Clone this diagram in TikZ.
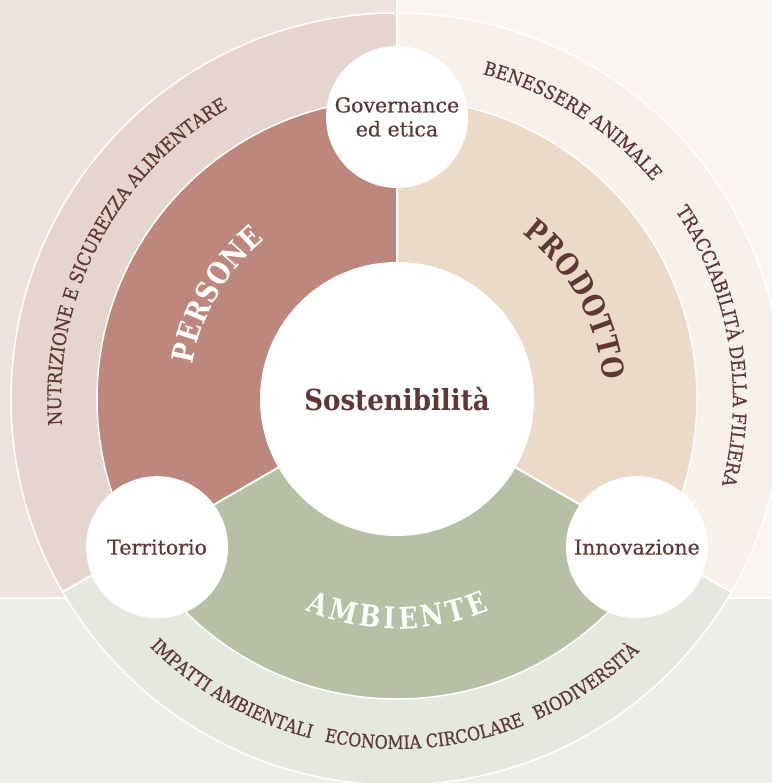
\documentclass[tikz,border=0pt]{standalone}
\usepackage{fontspec}
\setmainfont{DejaVu Serif}[FakeBold=0.5]
\newfontfamily\hubfamily{DejaVu Serif}[FakeStretch=0.9]
\newfontfamily\bandfamily{DejaVu Serif}[FakeStretch=0.86,FakeBold=0.5]
\newfontfamily\bandwidefamily{DejaVu Serif}[FakeStretch=0.9,FakeBold=0.5]
\newfontfamily\sectfamily{DejaVu Serif}[FakeStretch=0.84]
\usetikzlibrary{decorations.text}
\definecolor{txtbrown}{HTML}{5F3737}
\definecolor{persone}{HTML}{BE877D}
\definecolor{prodotto}{HTML}{ECDAC8}
\definecolor{ambiente}{HTML}{B5C0A5}
\definecolor{bgpersone}{HTML}{EEE2DF}
\definecolor{bgprodotto}{HTML}{FAF5F2}
\definecolor{bgambiente}{HTML}{EDEEE8}
\definecolor{bandpersone}{HTML}{E6D5CF}
\definecolor{bandprodotto}{HTML}{F7F0EB}
\definecolor{bandambiente}{HTML}{E5E8DF}
\tikzstyle{hub}=[circle,fill=white,minimum size=274pt,inner sep=0pt,text=txtbrown,font=\hubfamily\bfseries\fontsize{29}{34}\selectfont]
\tikzstyle{topic}=[circle,fill=white,minimum size=142pt,inner sep=0pt,text=txtbrown,align=center,font=\fontsize{20.5}{24}\selectfont]
\tikzstyle{divider}=[white,line width=2pt]
\tikzstyle{rim}=[white,line width=1.5pt]

\begin{document}
\begin{tikzpicture}[x=1pt,y=1pt]
\def \rhub {137};
\def \rin {300};
\def \rout {386};
\def \rdot {282};
\def \rbandcw {336};
\def \rbandccw {350};
\def \rsectcw {207};
\def \rsectccw {230};
\def \bandfont {\bandfamily\fontsize{18.5}{20}\selectfont};
\def \bandwidefont {\bandwidefamily\fontsize{18.8}{20}\selectfont};
\def \sectfont {\sectfamily\bfseries\fontsize{30}{32}\selectfont};

\clip (-397,-384) rectangle (375,399);

% background
\fill[bgpersone] (-397,-199) rectangle (0,399);
\fill[bgprodotto] (0,-199) rectangle (375,399);
\fill[bgambiente] (-397,-384) rectangle (375,-199);
\draw[divider] (0,0) -- (0,399);
\draw[divider] (-397,-199) -- (375,-199);

% outer band and inner sectors
\foreach \a/\col in {90/persone,-30/prodotto,210/ambiente} {
	\fill[band\col] (0,0) -- (\a:\rout) arc[start angle=\a,end angle=\a+120,radius=\rout] -- cycle;
	\fill[\col] (0,0) -- (\a:\rin) arc[start angle=\a,end angle=\a+120,radius=\rin] -- cycle;
};

\draw[rim] (0,0) circle[radius=\rout];
\draw[rim] (0,0) circle[radius=\rin];
\foreach \a in {90,210,330} {
	\draw[divider] (0,0) -- (\a:\rout);
};

\node[hub] (sost) at (0,0) {Sostenibilità};
\node[topic] (gov) at (90:\rdot) {Governance\\ed etica};
\node[topic] (terr) at (211.7:\rdot) {Territorio};
\node[topic] (innov) at (328.3:\rdot) {Innovazione};

% sector titles
\path[decorate,decoration={text along path,text align=center,
	text={|\color{white}\sectfont|P{\kern1pt}E{\kern1pt}R{\kern1pt}S{\kern1pt}O{\kern1pt}N{\kern1pt}E}}]
	(195:\rsectcw) arc[start angle=195,end angle=105,radius=\rsectcw];
\path[decorate,decoration={text along path,text align=center,
	text={|\color{txtbrown}\sectfont|P{\kern1pt}R{\kern1pt}O{\kern1pt}D{\kern1pt}O{\kern1pt}T{\kern1pt}T{\kern1pt}O}}]
	(74:\rsectcw) arc[start angle=74,end angle=-16,radius=\rsectcw];
\path[decorate,decoration={text along path,text align=center,
	text={|\color{white}\sectfont|A{\kern4pt}M{\kern4pt}B{\kern4pt}I{\kern4pt}E{\kern4pt}N{\kern4pt}T{\kern4pt}E}}]
	(225:\rsectccw) arc[start angle=225,end angle=315,radius=\rsectccw];

% band labels
\foreach \mid/\txt in {152.3/NUTRIZIONE E SICUREZZA ALIMENTARE,57.8/BENESSERE ANIMALE,9.6/TRACCIABILITÀ DELLA FILIERA} {
	\path[decorate,decoration={text along path,text align=center,text/.expanded={|\noexpand\color{txtbrown}\noexpand\bandwidefont|\txt}}]
		({\mid+50}:\rbandcw) arc[start angle=\mid+50,end angle=\mid-50,radius=\rbandcw];
};
\foreach \mid/\txt in {240.4/IMPATTI AMBIENTALI,274.7/ECONOMIA CIRCOLARE,303.7/BIODIVERSITÀ} {
	\path[decorate,decoration={text along path,text align=center,text/.expanded={|\noexpand\color{txtbrown}\noexpand\bandfont|\txt}}]
		({\mid-25}:\rbandccw) arc[start angle=\mid-25,end angle=\mid+25,radius=\rbandccw];
};

\end{tikzpicture}
\end{document}
